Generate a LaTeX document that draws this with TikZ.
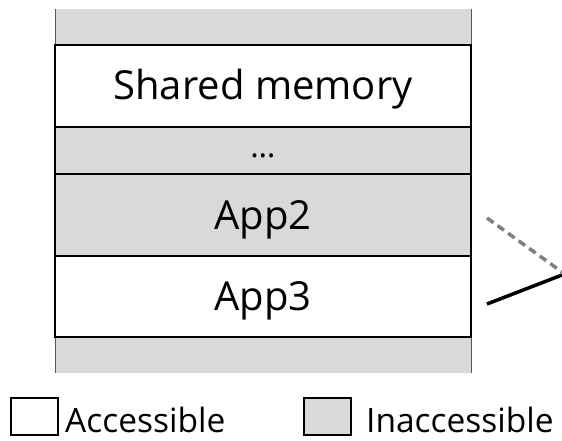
\documentclass[tikz,border=0pt]{standalone}
\usepackage{fontspec}
\setmainfont{Open Sans}
\usetikzlibrary{positioning}
\definecolor{inaccColor}{HTML}{D9D9D9}
\definecolor{linkColor}{HTML}{808080}

\begin{document}
\begin{tikzpicture}[x=1pt,y=-1pt,
	region/.style={draw, line width=2pt, minimum width=416pt, inner sep=0, outer sep=0,
		text height=28pt, text depth=0pt, font=\fontsize{40}{40}\selectfont},
	keybox/.style={draw, line width=2pt, minimum width=47pt, minimum height=37pt, inner sep=0},
	keytext/.style={anchor=base west, inner sep=0, font=\fontsize{33.5}{33.5}\selectfont}]
	\useasboundingbox (0,0) rectangle (562,441);
	% whole stack, guard strips above and below
	\node[fill=inaccColor, minimum width=416pt, minimum height=364pt, inner sep=0, outer sep=0] (stack) at (263, 191) {};
	\draw[gray!70!black, line width=1pt] (stack.north west) -- (stack.south west);
	\draw[gray!70!black, line width=1pt] (stack.north east) -- (stack.south east);
	
	\node[region, fill=white, minimum height=82pt] (shm) at (263, 86) {Shared memory};
	\node[region, fill=inaccColor, minimum height=47pt, text height=14pt, font=\fontsize{32}{32}\selectfont] (dots) at (263, 150.5) {\dots};
	\node[region, fill=inaccColor, minimum height=82pt] (app2) at (263, 215) {App2};
	\node[region, fill=white, minimum height=81pt] (app3) at (263, 296.5) {App3};
	
	\coordinate (app2x) at ([xshift=16pt,yshift=-3pt]app2.east);
	\coordinate (app3x) at ([xshift=16pt,yshift=-7.5pt]app3.east);
	\coordinate (outA) at (562, 272);
	\coordinate (outB) at (562, 275);
	\draw[linkColor, line width=3.5pt, dash pattern=on 8pt off 5pt] (app2x) -- (outA);
	\draw[black, line width=3.5pt] (app3x) -- (outB);
	
	% legend
	\node[keybox, fill=white] (kacc) at (34.5, 416.5) {};
	\node[keytext] (tacc) at (65, 432) {Accessible};
	\node[keybox, fill=inaccColor] (kinacc) at (327.5, 416.5) {};
	\node[keytext] (tinacc) at (366, 432) {Inaccessible};
\end{tikzpicture}
\end{document}
